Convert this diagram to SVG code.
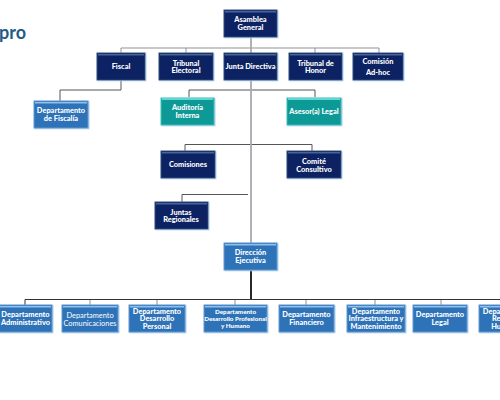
<svg xmlns="http://www.w3.org/2000/svg" width="500" height="400" viewBox="0 0 500 400">
<defs>
<filter id="s" x="-5%" y="-5%" width="112%" height="115%"><feDropShadow dx="1" dy="0.600" stdDeviation="0.300" flood-color="#a9cdf0"/></filter>
<style>
text{font-family:"Lato","Noto Sans","Liberation Sans",sans-serif;font-weight:900;font-size:7.400px;fill:#fff;text-anchor:middle}
.n{fill:#0a2062;stroke:#2f4a78;stroke-width:1;filter:url(#s)}
.t{fill:#0a9a96;stroke:#3fbdb8;stroke-width:1;filter:url(#s)}
.b{fill:#2f72b8;stroke:#5f97cf;stroke-width:1;filter:url(#s)}
.hn{fill:#4a6496}.ht{fill:#5fd6d0}.hb{fill:#8fc0ea}
.g{fill:none;stroke:#8f8f9a;stroke-width:1}
.d{fill:none;stroke:#555;stroke-width:1}
.l{font-weight:400}
.s{font-size:6.300px}
</style></defs>
<text x="-1" y="39" style="font-size:18px;fill:#1f5c86;text-anchor:start;font-weight:700">pro</text>
<g id="connectors">
<path class="g" d="M121 53V48H379V53M186 48V53M315 48V53"/>
<path class="d" d="M121 80V90H60V101"/>
<path class="d" d="M189 97V90H315V97"/>
<path class="d" d="M185 151V144.500H312V151"/>
<path class="d" d="M182 202V194.500H248"/>
<path d="M251 37V243" fill="none" stroke="#a8a8ae" stroke-width="1.800"/>
<path d="M251 270V299" fill="none" stroke="#111" stroke-width="1.800"/>
<path d="M25 305V299.500H500" fill="none" stroke="#333" stroke-width="1"/>
<path class="g" d="M90 300V305M157 300V305M235 300V305M306 300V305M375 300V305M441 300V305"/>
</g>
<g id="asamblea"><rect class="n" x="224" y="10" width="53" height="27"/><rect class="hn" x="225" y="11" width="51" height="1.500"/><text x="250.500" y="22">Asamblea</text><text x="250.500" y="30">General</text></g>
<g id="fiscal"><rect class="n" x="97" y="53" width="48" height="27"/><rect class="hn" x="98" y="54" width="46" height="1.500"/><text x="121" y="69">Fiscal</text></g>
<g id="tribunal-electoral"><rect class="n" x="159" y="53" width="54" height="27"/><rect class="hn" x="160" y="54" width="52" height="1.500"/><text x="186" y="65.500">Tribunal</text><text x="186" y="73">Electoral</text></g>
<g id="junta-directiva"><rect class="n" x="224" y="53" width="53" height="27"/><rect class="hn" x="225" y="54" width="51" height="1.500"/><text x="250.500" y="69">Junta Directiva</text></g>
<g id="tribunal-honor"><rect class="n" x="289" y="53" width="53" height="27"/><rect class="hn" x="290" y="54" width="51" height="1.500"/><text x="315.500" y="65.500">Tribunal de</text><text x="315.500" y="73">Honor</text></g>
<g id="comision"><rect class="n" x="353" y="53" width="50" height="27"/><rect class="hn" x="354" y="54" width="48" height="1.500"/><text x="378" y="64">Comisión</text><text x="378" y="75">Ad-hoc</text></g>
<g id="dep-fiscalia"><rect class="b" x="34" y="101" width="54" height="27"/><rect class="hb" x="35" y="102" width="52" height="1.500"/><text x="61" y="113">Departamento</text><text x="61" y="121">de Fiscalía</text></g>
<g id="auditoria"><rect class="t" x="161" y="98" width="53" height="27"/><rect class="ht" x="162" y="98" width="51" height="2"/><text x="187.500" y="110">Auditoría</text><text x="187.500" y="118">Interna</text></g>
<g id="asesor"><rect class="t" x="287" y="98" width="54" height="27"/><rect class="ht" x="288" y="98" width="52" height="2"/><text x="314" y="114">Asesor(a) Legal</text></g>
<g id="comisiones"><rect class="n" x="161" y="151" width="54" height="27"/><rect class="hn" x="162" y="152" width="52" height="1.500"/><text x="188" y="167">Comisiones</text></g>
<g id="comite"><rect class="n" x="287" y="151" width="54" height="27"/><rect class="hn" x="288" y="152" width="52" height="1.500"/><text x="314" y="164">Comité</text><text x="314" y="171.500">Consultivo</text></g>
<g id="juntas"><rect class="n" x="155" y="202" width="53" height="27"/><rect class="hn" x="156" y="203" width="51" height="1.500"/><text x="181" y="214.500">Juntas</text><text x="181" y="222">Regionales</text></g>
<g id="direccion"><rect class="b" x="224" y="243" width="53" height="27"/><rect class="hb" x="225" y="244" width="51" height="1.500"/><text x="250.500" y="255">Dirección</text><text x="250.500" y="263">Ejecutiva</text></g>
<g id="dep-admin"><rect class="b" x="-2" y="305" width="54" height="27"/><rect class="hb" x="-1" y="306" width="52" height="1.500"/><text x="25.500" y="317">Departamento</text><text x="25.500" y="325">Administrativo</text></g>
<g id="dep-com"><rect class="b" x="62" y="305" width="56" height="27"/><rect class="hb" x="63" y="306" width="54" height="1.500"/><text class="l" x="90" y="318">Departamento</text><text class="l" x="90" y="325.500">Comunicaciones</text></g>
<g id="dep-personal"><rect class="b" x="129" y="305" width="56" height="27"/><rect class="hb" x="130" y="306" width="54" height="1.500"/><text x="157" y="313.500">Departamento</text><text x="157" y="321">Desarrollo</text><text x="157" y="328.500">Personal</text></g>
<g id="dep-humano"><rect class="b" x="204" y="305" width="63" height="27"/><rect class="hb" x="205" y="306" width="61" height="1.500"/><text class="s" x="235.500" y="314">Departamento</text><text class="s" x="235.500" y="321">Desarrollo Profesional</text><text class="s" x="235.500" y="328">y Humano</text></g>
<g id="dep-financiero"><rect class="b" x="279" y="305" width="55" height="27"/><rect class="hb" x="280" y="306" width="53" height="1.500"/><text x="306.500" y="317">Departamento</text><text x="306.500" y="325">Financiero</text></g>
<g id="dep-infra"><rect class="b" x="347" y="305" width="58" height="27"/><rect class="hb" x="348" y="306" width="56" height="1.500"/><text x="376" y="313.500">Departamento</text><text x="376" y="321">Infraestructura y</text><text x="376" y="328.500">Mantenimiento</text></g>
<g id="dep-legal"><rect class="b" x="413" y="305" width="54" height="27"/><rect class="hb" x="414" y="306" width="52" height="1.500"/><text x="440" y="317">Departamento</text><text x="440" y="325">Legal</text></g>
<g id="dep-rrhh"><rect class="b" x="479" y="305" width="56" height="27"/><rect class="hb" x="480" y="306" width="54" height="1.500"/><text x="507" y="313.500">Departamento</text><text x="507" y="321">Recursos</text><text x="507" y="328.500">Humanos</text></g>
</svg>
